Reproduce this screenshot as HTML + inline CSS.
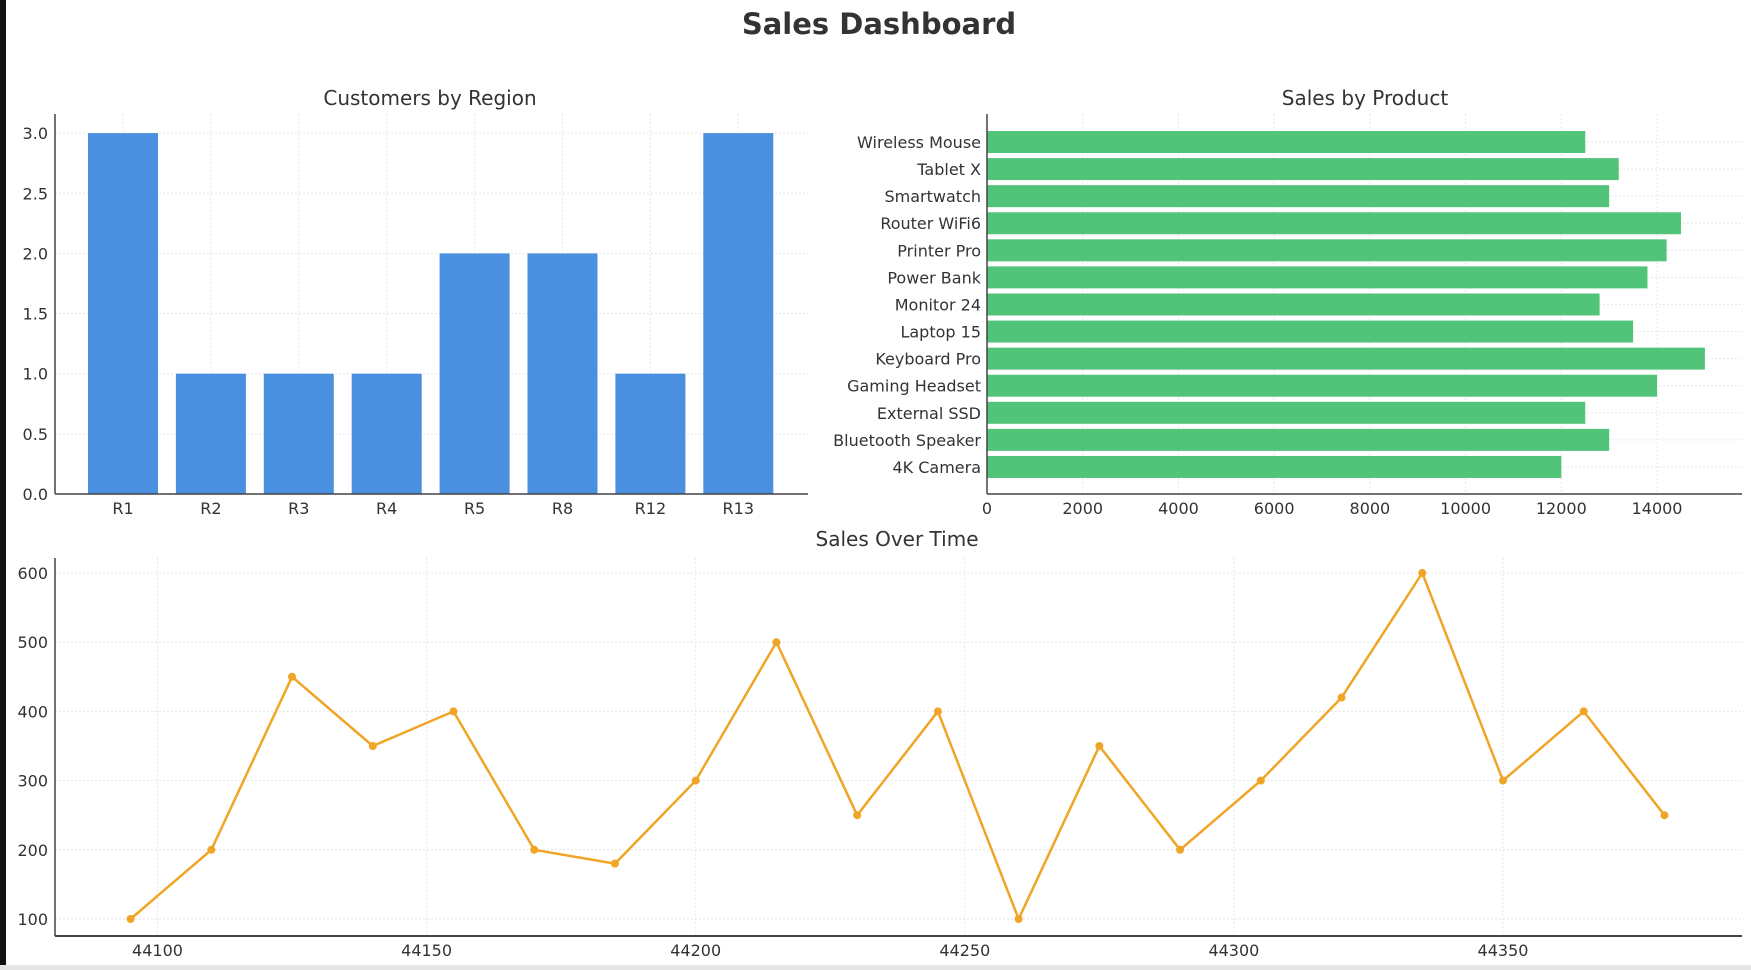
<!DOCTYPE html>
<html><head><meta charset="utf-8"><style>
html,body{margin:0;padding:0;background:#fff;width:1751px;height:970px;overflow:hidden}
svg{display:block}
text{font-family:"DejaVu Sans","Liberation Sans",sans-serif;fill:#333}
</style></head><body>
<svg id="svg" width="1751" height="970">
<rect x="0" y="0" width="6" height="970" fill="#111"/>
<rect x="0" y="965" width="1751" height="5" fill="#e6e6e6"/>
<text x="879" y="34" text-anchor="middle" font-size="29" font-weight="bold" fill="#222">Sales Dashboard</text>
<g id="c1"></g>
<g id="c2"></g>
<g id="c3"></g>
</svg>
<script>
const regions=["R1","R2","R3","R4","R5","R8","R12","R13"];
const customers=[3,1,1,1,2,2,1,3];
const c1Ticks=[0,0.5,1,1.5,2,2.5,3];
const products=["Wireless Mouse","Tablet X","Smartwatch","Router WiFi6","Printer Pro","Power Bank","Monitor 24","Laptop 15","Keyboard Pro","Gaming Headset","External SSD","Bluetooth Speaker","4K Camera"];
const productSales=[12500,13200,13000,14500,14200,13800,12800,13500,15000,14000,12500,13000,12000];
const c2Ticks=[0,2000,4000,6000,8000,10000,12000,14000];
const dates=[44095,44110,44125,44140,44155,44170,44185,44200,44215,44230,44245,44260,44275,44290,44305,44320,44335,44350,44365,44380];
const timeSales=[100,200,450,350,400,200,180,300,500,250,400,100,350,200,300,420,600,300,400,250];
const c3YTicks=[100,200,300,400,500,600];
const c3XTicks=[44100,44150,44200,44250,44300,44350];
const NS="http://www.w3.org/2000/svg";
function el(p,t,a,txt){const e=document.createElementNS(NS,t);for(const k in a)e.setAttribute(k,a[k]);if(txt!==undefined)e.textContent=txt;p.appendChild(e);return e;}
const GRID={stroke:"#e6e6e6","stroke-width":1,"stroke-dasharray":"2,2"};

// Chart 1
(function(){
const g=document.getElementById('c1');
const L=55,R=808,T=114,B=494;
const x=i=>123+i*87.9, y=v=>494-v*120.3;
el(g,'text',{x:430,y:105,'text-anchor':'middle','font-size':20,fill:'#444'},'Customers by Region');
c1Ticks.forEach(v=>{
 const gl=el(g,'line',Object.assign({x1:L,x2:R,y1:y(v),y2:y(v)},GRID));
 
 const t=el(g,'text',{x:L-7,y:y(v)+6,'text-anchor':'end','font-size':16},v.toFixed(1));
 
});
regions.forEach((r,i)=>{
 el(g,'line',Object.assign({x1:x(i),x2:x(i),y1:T,y2:B},GRID));
 const b=el(g,'rect',{x:x(i)-35,y:y(customers[i]),width:70,height:B-y(customers[i]),fill:'#4a8fe0'});
 
 const t=el(g,'text',{x:x(i),y:B+20,'text-anchor':'middle','font-size':16},r);
 
});
el(g,'line',{x1:L,x2:L,y1:T,y2:B,stroke:'#444','stroke-width':1.5});
el(g,'line',{x1:L,x2:R,y1:B,y2:B,stroke:'#444','stroke-width':1.5});
})();

// Chart 2
(function(){
const g=document.getElementById('c2');
const L=987,R=1742,T=114,B=494;
const x=v=>L+v*0.04786, y=i=>142+i*27.08;
el(g,'text',{x:1365,y:105,'text-anchor':'middle','font-size':20,fill:'#444'},'Sales by Product');
c2Ticks.forEach(v=>{
 el(g,'line',Object.assign({x1:x(v),x2:x(v),y1:T,y2:B},GRID));
 const t=el(g,'text',{x:x(v),y:B+20,'text-anchor':'middle','font-size':16},String(v));
 
});
products.forEach((p,i)=>{
 el(g,'line',Object.assign({x1:L,x2:R,y1:y(i),y2:y(i)},GRID));
 const b=el(g,'rect',{x:L,y:y(i)-11,width:x(productSales[i])-L,height:22,fill:'#52c47a'});
 
 const t=el(g,'text',{x:L-6,y:y(i)+6,'text-anchor':'end','font-size':16},p);
 
});
el(g,'line',{x1:L,x2:L,y1:T,y2:B,stroke:'#444','stroke-width':1.5});
el(g,'line',{x1:L,x2:R,y1:B,y2:B,stroke:'#444','stroke-width':1.5});
})();

// Chart 3
(function(){
const g=document.getElementById('c3');
const L=55,R=1742,T=558,B=936;
const x=v=>157.5+(v-44100)*5.382, y=v=>919-(v-100)*0.692;
el(g,'text',{x:897,y:546,'text-anchor':'middle','font-size':20,fill:'#444'},'Sales Over Time');
c3YTicks.forEach(v=>{
 el(g,'line',Object.assign({x1:L,x2:R,y1:y(v),y2:y(v)},GRID));
 const t=el(g,'text',{x:L-7,y:y(v)+6,'text-anchor':'end','font-size':16},String(v));
 
});
c3XTicks.forEach(v=>{
 el(g,'line',Object.assign({x1:x(v),x2:x(v),y1:T,y2:B},GRID));
 const t=el(g,'text',{x:x(v),y:B+20,'text-anchor':'middle','font-size':16},String(v));
 
});
const pts=dates.map((d,i)=>x(d)+','+y(timeSales[i])).join(' ');
const ln=el(g,'polyline',{points:pts,fill:'none',stroke:'#f0a526','stroke-width':2.5});

dates.forEach((d,i)=>{
 const c=el(g,'circle',{cx:x(d),cy:y(timeSales[i]),r:4,fill:'#f0a526'});
 
});
el(g,'line',{x1:L,x2:L,y1:T,y2:B,stroke:'#444','stroke-width':1.5});
el(g,'line',{x1:L,x2:R,y1:B,y2:B,stroke:'#444','stroke-width':2});
})();
</script>
</body></html>
